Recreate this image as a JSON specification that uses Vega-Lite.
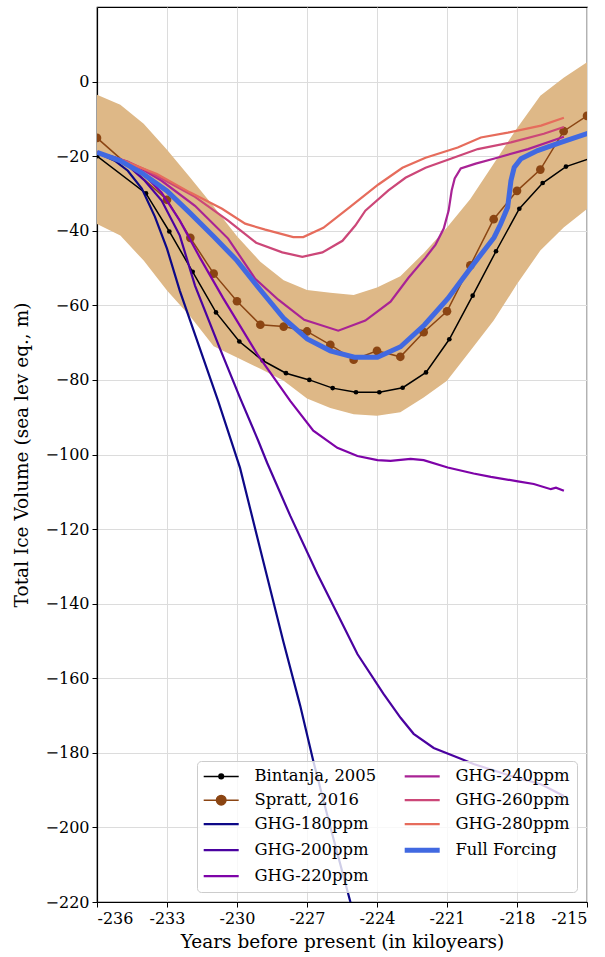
{
  "$schema": "https://vega.github.io/schema/vega-lite/v6.json",
  "width": 490,
  "height": 895,
  "autosize": {"type": "none"},
  "padding": {"left": 97, "top": 7, "right": 18, "bottom": 55},
  "background": "white",
  "datasets": {
    "band": [
      {"year": -236, "lo": -38.2, "hi": -3.5},
      {"year": -235, "lo": -41.3, "hi": -6.2},
      {"year": -234, "lo": -48.0, "hi": -11.3},
      {"year": -233, "lo": -56.0, "hi": -18.3},
      {"year": -232, "lo": -63.0, "hi": -25.8},
      {"year": -231, "lo": -71.0, "hi": -33.5},
      {"year": -230, "lo": -74.0, "hi": -41.5},
      {"year": -229, "lo": -77.0, "hi": -48.3},
      {"year": -228, "lo": -80.2, "hi": -53.3},
      {"year": -227, "lo": -85.0, "hi": -55.9},
      {"year": -226, "lo": -87.5, "hi": -56.6},
      {"year": -225, "lo": -89.2, "hi": -57.2},
      {"year": -224, "lo": -89.6, "hi": -55.2},
      {"year": -223, "lo": -88.7, "hi": -52.2},
      {"year": -222, "lo": -84.7, "hi": -46.0},
      {"year": -221, "lo": -80.2, "hi": -39.1},
      {"year": -220, "lo": -72.2, "hi": -31.5},
      {"year": -219, "lo": -64.1, "hi": -22.0},
      {"year": -218, "lo": -54.3, "hi": -12.5},
      {"year": -217, "lo": -45.3, "hi": -3.8},
      {"year": -216, "lo": -39.1, "hi": 1.0},
      {"year": -215, "lo": -34.2, "hi": 5.2}
    ],
    "lines": [
      {"series": "Bintanja, 2005", "year": -236.0, "ice": -20.0},
      {"series": "Bintanja, 2005", "year": -233.9, "ice": -30.0},
      {"series": "Bintanja, 2005", "year": -232.9, "ice": -40.2},
      {"series": "Bintanja, 2005", "year": -231.9, "ice": -51.0},
      {"series": "Bintanja, 2005", "year": -230.9, "ice": -61.9},
      {"series": "Bintanja, 2005", "year": -229.9, "ice": -69.7},
      {"series": "Bintanja, 2005", "year": -228.9, "ice": -74.8},
      {"series": "Bintanja, 2005", "year": -227.9, "ice": -78.2},
      {"series": "Bintanja, 2005", "year": -226.9, "ice": -80.0},
      {"series": "Bintanja, 2005", "year": -225.9, "ice": -82.2},
      {"series": "Bintanja, 2005", "year": -224.9, "ice": -83.3},
      {"series": "Bintanja, 2005", "year": -223.9, "ice": -83.3},
      {"series": "Bintanja, 2005", "year": -222.9, "ice": -82.1},
      {"series": "Bintanja, 2005", "year": -221.9, "ice": -78.0},
      {"series": "Bintanja, 2005", "year": -220.9, "ice": -69.1},
      {"series": "Bintanja, 2005", "year": -219.9, "ice": -57.4},
      {"series": "Bintanja, 2005", "year": -218.9, "ice": -45.5},
      {"series": "Bintanja, 2005", "year": -217.9, "ice": -34.1},
      {"series": "Bintanja, 2005", "year": -216.9, "ice": -27.2},
      {"series": "Bintanja, 2005", "year": -215.9, "ice": -22.8},
      {"series": "Bintanja, 2005", "year": -214.9, "ice": -20.7},

      {"series": "Spratt, 2016", "year": -236, "ice": -15.1},
      {"series": "Spratt, 2016", "year": -233, "ice": -31.7},
      {"series": "Spratt, 2016", "year": -232, "ice": -41.9},
      {"series": "Spratt, 2016", "year": -231, "ice": -51.5},
      {"series": "Spratt, 2016", "year": -230, "ice": -58.9},
      {"series": "Spratt, 2016", "year": -229, "ice": -65.2},
      {"series": "Spratt, 2016", "year": -228, "ice": -65.7},
      {"series": "Spratt, 2016", "year": -227, "ice": -67.0},
      {"series": "Spratt, 2016", "year": -226, "ice": -70.6},
      {"series": "Spratt, 2016", "year": -225, "ice": -74.6},
      {"series": "Spratt, 2016", "year": -224, "ice": -72.2},
      {"series": "Spratt, 2016", "year": -223, "ice": -73.8},
      {"series": "Spratt, 2016", "year": -222, "ice": -67.2},
      {"series": "Spratt, 2016", "year": -221, "ice": -61.6},
      {"series": "Spratt, 2016", "year": -220, "ice": -49.3},
      {"series": "Spratt, 2016", "year": -219, "ice": -36.9},
      {"series": "Spratt, 2016", "year": -218, "ice": -29.3},
      {"series": "Spratt, 2016", "year": -217, "ice": -23.6},
      {"series": "Spratt, 2016", "year": -216, "ice": -13.3},
      {"series": "Spratt, 2016", "year": -215, "ice": -9.2},

      {"series": "GHG-180ppm", "year": -236.0, "ice": -19.0},
      {"series": "GHG-180ppm", "year": -235.24, "ice": -21.2},
      {"series": "GHG-180ppm", "year": -234.68, "ice": -23.9},
      {"series": "GHG-180ppm", "year": -234.08, "ice": -28.7},
      {"series": "GHG-180ppm", "year": -233.52, "ice": -36.2},
      {"series": "GHG-180ppm", "year": -233.0, "ice": -44.8},
      {"series": "GHG-180ppm", "year": -232.45, "ice": -56.1},
      {"series": "GHG-180ppm", "year": -231.59, "ice": -71.6},
      {"series": "GHG-180ppm", "year": -230.81, "ice": -85.6},
      {"series": "GHG-180ppm", "year": -229.87, "ice": -103.6},
      {"series": "GHG-180ppm", "year": -228.88, "ice": -128.5},
      {"series": "GHG-180ppm", "year": -228.02, "ice": -150.0},
      {"series": "GHG-180ppm", "year": -227.29, "ice": -167.4},
      {"series": "GHG-180ppm", "year": -226.73, "ice": -182.2},
      {"series": "GHG-180ppm", "year": -226.0, "ice": -199.9},
      {"series": "GHG-180ppm", "year": -225.14, "ice": -220.0},
      {"series": "GHG-180ppm", "year": -224.88, "ice": -226.5},

      {"series": "GHG-200ppm", "year": -236.0, "ice": -19.0},
      {"series": "GHG-200ppm", "year": -235.24, "ice": -20.7},
      {"series": "GHG-200ppm", "year": -234.68, "ice": -22.5},
      {"series": "GHG-200ppm", "year": -233.95, "ice": -26.6},
      {"series": "GHG-200ppm", "year": -233.23, "ice": -31.9},
      {"series": "GHG-200ppm", "year": -232.45, "ice": -41.3},
      {"series": "GHG-200ppm", "year": -231.8, "ice": -54.7},
      {"series": "GHG-200ppm", "year": -230.73, "ice": -71.6},
      {"series": "GHG-200ppm", "year": -229.87, "ice": -84.8},
      {"series": "GHG-200ppm", "year": -229.09, "ice": -96.3},
      {"series": "GHG-200ppm", "year": -228.71, "ice": -102.2},
      {"series": "GHG-200ppm", "year": -227.72, "ice": -116.4},
      {"series": "GHG-200ppm", "year": -226.56, "ice": -132.0},
      {"series": "GHG-200ppm", "year": -225.7, "ice": -142.7},
      {"series": "GHG-200ppm", "year": -224.84, "ice": -153.5},
      {"series": "GHG-200ppm", "year": -223.72, "ice": -164.2},
      {"series": "GHG-200ppm", "year": -222.99, "ice": -170.6},
      {"series": "GHG-200ppm", "year": -222.43, "ice": -174.9},
      {"series": "GHG-200ppm", "year": -221.57, "ice": -178.7},
      {"series": "GHG-200ppm", "year": -220.41, "ice": -181.6},
      {"series": "GHG-200ppm", "year": -219.86, "ice": -183.0},
      {"series": "GHG-200ppm", "year": -218.26, "ice": -186.2},
      {"series": "GHG-200ppm", "year": -216.97, "ice": -188.4},
      {"series": "GHG-200ppm", "year": -215.99, "ice": -191.6},

      {"series": "GHG-220ppm", "year": -236.0, "ice": -19.0},
      {"series": "GHG-220ppm", "year": -235.24, "ice": -20.4},
      {"series": "GHG-220ppm", "year": -234.68, "ice": -21.7},
      {"series": "GHG-220ppm", "year": -233.95, "ice": -25.2},
      {"series": "GHG-220ppm", "year": -233.23, "ice": -29.8},
      {"series": "GHG-220ppm", "year": -232.45, "ice": -37.3},
      {"series": "GHG-220ppm", "year": -231.59, "ice": -47.2},
      {"series": "GHG-220ppm", "year": -230.6, "ice": -58.0},
      {"series": "GHG-220ppm", "year": -229.14, "ice": -73.0},
      {"series": "GHG-220ppm", "year": -227.72, "ice": -85.6},
      {"series": "GHG-220ppm", "year": -226.73, "ice": -93.6},
      {"series": "GHG-220ppm", "year": -225.7, "ice": -98.2},
      {"series": "GHG-220ppm", "year": -224.84, "ice": -100.4},
      {"series": "GHG-220ppm", "year": -223.98, "ice": -101.5},
      {"series": "GHG-220ppm", "year": -223.42, "ice": -101.7},
      {"series": "GHG-220ppm", "year": -222.56, "ice": -101.2},
      {"series": "GHG-220ppm", "year": -222.0, "ice": -101.5},
      {"series": "GHG-220ppm", "year": -220.97, "ice": -103.5},
      {"series": "GHG-220ppm", "year": -219.86, "ice": -105.1},
      {"series": "GHG-220ppm", "year": -219.12, "ice": -106.0},
      {"series": "GHG-220ppm", "year": -217.96, "ice": -107.2},
      {"series": "GHG-220ppm", "year": -217.28, "ice": -107.9},
      {"series": "GHG-220ppm", "year": -216.55, "ice": -109.3},
      {"series": "GHG-220ppm", "year": -216.33, "ice": -108.9},
      {"series": "GHG-220ppm", "year": -215.99, "ice": -109.7},

      {"series": "GHG-240ppm", "year": -236.0, "ice": -19.0},
      {"series": "GHG-240ppm", "year": -235.24, "ice": -20.4},
      {"series": "GHG-240ppm", "year": -234.68, "ice": -21.5},
      {"series": "GHG-240ppm", "year": -233.95, "ice": -23.9},
      {"series": "GHG-240ppm", "year": -233.23, "ice": -26.6},
      {"series": "GHG-240ppm", "year": -231.8, "ice": -33.3},
      {"series": "GHG-240ppm", "year": -230.38, "ice": -42.1},
      {"series": "GHG-240ppm", "year": -229.22, "ice": -52.9},
      {"series": "GHG-240ppm", "year": -228.23, "ice": -58.5},
      {"series": "GHG-240ppm", "year": -227.12, "ice": -63.9},
      {"series": "GHG-240ppm", "year": -225.66, "ice": -66.8},
      {"series": "GHG-240ppm", "year": -224.5, "ice": -64.1},
      {"series": "GHG-240ppm", "year": -223.42, "ice": -59.0},
      {"series": "GHG-240ppm", "year": -222.65, "ice": -52.6},
      {"series": "GHG-240ppm", "year": -221.92, "ice": -47.2},
      {"series": "GHG-240ppm", "year": -221.49, "ice": -43.7},
      {"series": "GHG-240ppm", "year": -221.14, "ice": -39.4},
      {"series": "GHG-240ppm", "year": -220.93, "ice": -34.6},
      {"series": "GHG-240ppm", "year": -220.8, "ice": -29.2},
      {"series": "GHG-240ppm", "year": -220.67, "ice": -26.0},
      {"series": "GHG-240ppm", "year": -220.41, "ice": -23.3},
      {"series": "GHG-240ppm", "year": -219.77, "ice": -22.0},
      {"series": "GHG-240ppm", "year": -219.0, "ice": -20.7},
      {"series": "GHG-240ppm", "year": -217.53, "ice": -18.1},
      {"series": "GHG-240ppm", "year": -215.99, "ice": -14.8},

      {"series": "GHG-260ppm", "year": -236.0, "ice": -19.0},
      {"series": "GHG-260ppm", "year": -235.24, "ice": -20.3},
      {"series": "GHG-260ppm", "year": -234.68, "ice": -21.5},
      {"series": "GHG-260ppm", "year": -233.95, "ice": -23.6},
      {"series": "GHG-260ppm", "year": -233.23, "ice": -26.0},
      {"series": "GHG-260ppm", "year": -231.8, "ice": -30.9},
      {"series": "GHG-260ppm", "year": -230.38, "ice": -37.3},
      {"series": "GHG-260ppm", "year": -229.18, "ice": -43.2},
      {"series": "GHG-260ppm", "year": -228.06, "ice": -45.8},
      {"series": "GHG-260ppm", "year": -227.2, "ice": -47.0},
      {"series": "GHG-260ppm", "year": -226.34, "ice": -45.8},
      {"series": "GHG-260ppm", "year": -225.48, "ice": -42.7},
      {"series": "GHG-260ppm", "year": -224.93, "ice": -38.6},
      {"series": "GHG-260ppm", "year": -224.5, "ice": -34.6},
      {"series": "GHG-260ppm", "year": -223.51, "ice": -29.2},
      {"series": "GHG-260ppm", "year": -222.78, "ice": -25.8},
      {"series": "GHG-260ppm", "year": -221.92, "ice": -23.1},
      {"series": "GHG-260ppm", "year": -220.84, "ice": -20.7},
      {"series": "GHG-260ppm", "year": -219.68, "ice": -18.1},
      {"series": "GHG-260ppm", "year": -218.26, "ice": -16.3},
      {"series": "GHG-260ppm", "year": -216.85, "ice": -14.0},
      {"series": "GHG-260ppm", "year": -215.99, "ice": -12.2},

      {"series": "GHG-280ppm", "year": -236.0, "ice": -19.0},
      {"series": "GHG-280ppm", "year": -234.9, "ice": -21.2},
      {"series": "GHG-280ppm", "year": -233.43, "ice": -24.8},
      {"series": "GHG-280ppm", "year": -232.02, "ice": -29.7},
      {"series": "GHG-280ppm", "year": -230.64, "ice": -34.1},
      {"series": "GHG-280ppm", "year": -229.65, "ice": -38.1},
      {"series": "GHG-280ppm", "year": -228.79, "ice": -39.7},
      {"series": "GHG-280ppm", "year": -227.59, "ice": -41.7},
      {"series": "GHG-280ppm", "year": -227.16, "ice": -41.7},
      {"series": "GHG-280ppm", "year": -226.3, "ice": -39.2},
      {"series": "GHG-280ppm", "year": -225.14, "ice": -33.5},
      {"series": "GHG-280ppm", "year": -223.94, "ice": -27.6},
      {"series": "GHG-280ppm", "year": -222.91, "ice": -23.1},
      {"series": "GHG-280ppm", "year": -221.92, "ice": -20.4},
      {"series": "GHG-280ppm", "year": -220.54, "ice": -17.7},
      {"series": "GHG-280ppm", "year": -219.55, "ice": -15.0},
      {"series": "GHG-280ppm", "year": -218.39, "ice": -13.7},
      {"series": "GHG-280ppm", "year": -216.97, "ice": -11.8},
      {"series": "GHG-280ppm", "year": -215.99, "ice": -9.7},

      {"series": "Full Forcing", "year": -236.0, "ice": -19.0},
      {"series": "Full Forcing", "year": -235.02, "ice": -21.2},
      {"series": "Full Forcing", "year": -234.04, "ice": -24.7},
      {"series": "Full Forcing", "year": -233.0, "ice": -29.3},
      {"series": "Full Forcing", "year": -232.02, "ice": -35.2},
      {"series": "Full Forcing", "year": -230.99, "ice": -41.6},
      {"series": "Full Forcing", "year": -230.0, "ice": -48.0},
      {"series": "Full Forcing", "year": -228.97, "ice": -56.1},
      {"series": "Full Forcing", "year": -227.98, "ice": -63.6},
      {"series": "Full Forcing", "year": -226.99, "ice": -69.0},
      {"series": "Full Forcing", "year": -226.0, "ice": -72.2},
      {"series": "Full Forcing", "year": -224.97, "ice": -73.9},
      {"series": "Full Forcing", "year": -223.98, "ice": -73.9},
      {"series": "Full Forcing", "year": -222.99, "ice": -71.1},
      {"series": "Full Forcing", "year": -221.96, "ice": -65.2},
      {"series": "Full Forcing", "year": -220.97, "ice": -58.2},
      {"series": "Full Forcing", "year": -219.98, "ice": -49.9},
      {"series": "Full Forcing", "year": -218.98, "ice": -41.8},
      {"series": "Full Forcing", "year": -218.7, "ice": -38.2},
      {"series": "Full Forcing", "year": -218.4, "ice": -33.7},
      {"series": "Full Forcing", "year": -218.26, "ice": -26.6},
      {"series": "Full Forcing", "year": -218.12, "ice": -23.0},
      {"series": "Full Forcing", "year": -217.83, "ice": -20.7},
      {"series": "Full Forcing", "year": -217.12, "ice": -18.5},
      {"series": "Full Forcing", "year": -216.12, "ice": -16.3},
      {"series": "Full Forcing", "year": -214.96, "ice": -13.9}
    ]
  },
  "encoding": {
    "x": {
      "field": "year", "type": "quantitative",
      "scale": {"domain": [-236, -215], "nice": false, "zero": false},
      "axis": {
        "title": "Years before present (in kiloyears)",
        "values": [-236, -233, -230, -227, -224, -221, -218, -215],
        "labelExpr": "'-' + format(abs(datum.value), 'd')",
        "titlePadding": 6
      }
    },
    "y": {
      "field": "ice", "type": "quantitative",
      "scale": {"domain": [-220, 20], "nice": false, "zero": false},
      "axis": {
        "title": "Total Ice Volume (sea lev eq., m)",
        "values": [-220, -200, -180, -160, -140, -120, -100, -80, -60, -40, -20, 0],
        "titlePadding": 14
      }
    }
  },
  "layer": [
    {
      "data": {"name": "band"},
      "mark": {"type": "area", "color": "#DEB887", "opacity": 1},
      "encoding": {
        "x": {"field": "year", "type": "quantitative"},
        "y": {"field": "lo", "type": "quantitative"},
        "y2": {"field": "hi"}
      }
    },
    {
      "data": {"name": "lines"},
      "transform": [{"filter": "datum.series === 'Bintanja, 2005'"}],
      "mark": {"type": "line", "strokeWidth": 1.5, "clip": true},
      "encoding": {
        "color": {
          "field": "series", "type": "nominal",
          "scale": {
            "domain": ["Bintanja, 2005", "Spratt, 2016", "GHG-180ppm", "GHG-200ppm", "GHG-220ppm", "GHG-240ppm", "GHG-260ppm", "GHG-280ppm", "Full Forcing"],
            "range": ["#000000", "#8B4513", "#0d0887", "#4a02a0", "#7e03a8", "#a92395", "#cc4778", "#e66c5c", "#4169E1"]
          },
          "legend": {
            "title": null,
            "orient": "bottom-right",
            "offset": 10,
            "columns": 2,
            "symbolType": "stroke",
            "symbolSize": 100,
            "symbolStrokeWidth": 2,
            "symbolOffset": 9,
            "labelOffset": 25,
            "labelFont": "DejaVu Serif",
            "labelFontSize": 16.4,
            "labelColor": "black",
            "labelLimit": 300,
            "rowPadding": 7,
            "columnPadding": 17,
            "padding": 7,
            "fillColor": "rgba(255,255,255,0.8)",
            "strokeColor": "#cccccc",
            "cornerRadius": 4,
            "encode": {
              "symbols": {
                "update": {
                  "shape": {"signal": "datum.value === 'Bintanja, 2005' ? 'M-3.5,0H3.5M-0.46,0A0.46,0.46,0,1,1,0.46,0A0.46,0.46,0,1,1,-0.46,0Z' : (datum.value === 'Spratt, 2016' ? 'M-3.5,0H3.5M-0.95,0A0.95,0.95,0,1,1,0.95,0A0.95,0.95,0,1,1,-0.95,0Z' : 'M-3.5,0H3.5')"},
                  "strokeWidth": {"signal": "datum.value === 'Full Forcing' ? 5 : (datum.value === 'Bintanja, 2005' || datum.value === 'Spratt, 2016' ? 1.5 : 2.2)"},
                  "fill": {"signal": "datum.value === 'Bintanja, 2005' ? '#000000' : (datum.value === 'Spratt, 2016' ? '#8B4513' : 'transparent')"},
                  "opacity": {"value": 1}
                }
              }
            }
          }
        }
      }
    },
    {
      "data": {"name": "lines"},
      "transform": [{"filter": "datum.series === 'Bintanja, 2005'"}],
      "mark": {"type": "point", "filled": true, "color": "#000000", "size": 22, "opacity": 1, "clip": true}
    },
    {
      "data": {"name": "lines"},
      "transform": [{"filter": "datum.series === 'Spratt, 2016'"}],
      "mark": {"type": "line", "strokeWidth": 1.5, "clip": true},
      "encoding": {"color": {"field": "series", "type": "nominal"}}
    },
    {
      "data": {"name": "lines"},
      "transform": [{"filter": "datum.series === 'Spratt, 2016'"}],
      "mark": {"type": "point", "filled": true, "color": "#8B4513", "size": 75, "opacity": 1, "clip": true}
    },
    {
      "data": {"name": "lines"},
      "transform": [{"filter": "indexof(datum.series, 'GHG') === 0"}],
      "mark": {"type": "line", "strokeWidth": 2.2, "clip": true},
      "encoding": {"color": {"field": "series", "type": "nominal"}}
    },
    {
      "data": {"name": "lines"},
      "transform": [{"filter": "datum.series === 'Full Forcing'"}],
      "mark": {"type": "line", "strokeWidth": 5, "clip": true},
      "encoding": {"color": {"field": "series", "type": "nominal"}}
    }
  ],
  "config": {
    "font": "DejaVu Serif",
    "view": {"stroke": "black", "strokeWidth": 1.2},
    "axis": {
      "domainColor": "black",
      "domainWidth": 1.2,
      "tickColor": "black",
      "tickSize": 5,
      "tickWidth": 1,
      "labelColor": "black",
      "titleColor": "black",
      "gridColor": "#dcdcdc",
      "gridWidth": 1,
      "labelFont": "DejaVu Serif",
      "titleFont": "DejaVu Serif",
      "labelFontSize": 16,
      "titleFontSize": 18.5,
      "titleFontWeight": "normal",
      "labelPadding": 3
    }
  }
}
